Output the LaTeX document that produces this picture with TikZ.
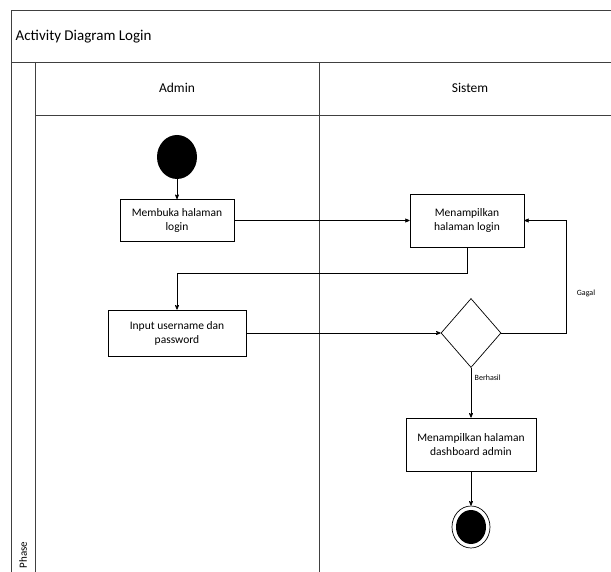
\documentclass[tikz,border=0pt]{standalone}
\usepackage{fontspec}
\setmainfont{Carlito}
\usetikzlibrary{arrows,shapes.geometric}

\begin{document}
\begin{tikzpicture}[x=1pt,y=-1pt,>=stealth',line width=0.7pt,
                    act node/.style={rectangle,draw,align=center,inner sep=2pt,
                                     font=\fontsize{11.5}{14}\selectfont},
                    lane/.style={draw=black!75,line width=0.9pt}]

  \useasboundingbox (0,0) rectangle (611,572);
  \clip (0,0) rectangle (611,572);

  % swimlane frame
  \draw[lane] (11,10) rectangle (630,600);
  \draw[lane] (11,62) -- (630,62);
  \draw[lane] (35,115) -- (630,115);
  \draw[lane] (35,62) -- (35,600);
  \draw[lane] (319,62) -- (319,600);

  \node[anchor=west,font=\fontsize{15}{17}\selectfont] (title) at (12,37) {Activity Diagram Login};
  \node[font=\fontsize{13.5}{16}\selectfont] (admin) at (177,88) {Admin};
  \node[font=\fontsize{13.5}{16}\selectfont] (sistem) at (470,88) {Sistem};
  \node[rotate=90,font=\fontsize{11}{13}\selectfont] (phase) at (23,555) {Phase};

  % activities
  \node[ellipse,fill=black,minimum width=40,minimum height=44,inner sep=0pt] (start) at (177,157) {};
  \node[act node,minimum width=114,minimum height=42] (open) at (177,220.5) {Membuka halaman\\login};
  \node[act node,minimum width=114,minimum height=53] (show) at (467,220.5) {Menampilkan\\halaman login};
  \node[act node,minimum width=138,minimum height=46] (input) at (177,333) {Input username dan\\password};
  \node[diamond,draw,minimum width=60,minimum height=69,inner sep=0pt] (check) at (471,333) {};
  \node[act node,minimum width=130,minimum height=53] (dash) at (471,444.5) {Menampilkan halaman\\dashboard admin};
  \node[ellipse,draw,minimum width=38,minimum height=42,inner sep=0pt,
        path picture={\fill (path picture bounding box.center) ellipse [x radius=15pt,y radius=17pt];}] (stop) at (471,527) {};
  \node[font=\fontsize{8}{10}\selectfont] (gagal) at (586,293) {Gagal};

  \path[->,every node/.style={font=\fontsize{8}{10}\selectfont}]
    (start) edge (open)
    (open) edge (show)
    (show.south) edge [to path={-- ++(0,26) -| (\tikztotarget)}] (input.north)
    (input) edge (check)
    (check.east) edge [to path={-- ++(65,0) |- (\tikztotarget)}] (show.east)
    (check) edge node [pos=0.2,right] {Berhasil} (dash)
    (dash) edge (stop)
;
\end{tikzpicture}
\end{document}
